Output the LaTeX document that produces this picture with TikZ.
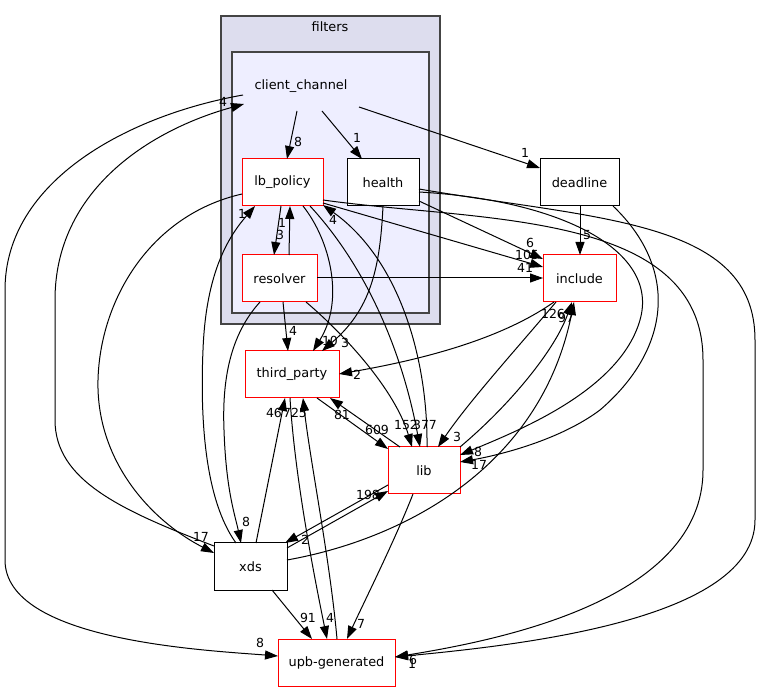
\documentclass[tikz,border=0pt]{standalone}
\usepackage{fontspec}
\setmainfont{DejaVu Sans}
\usetikzlibrary{arrows.meta,calc}
\definecolor{clout}{HTML}{DDDDEE}
\definecolor{clin}{HTML}{EEEEFF}
\definecolor{clborder}{HTML}{444444}
\tikzset{
 box/.style={draw, fill=white, minimum height=47pt, inner sep=0pt, outer sep=0pt, line width=1pt, font=\fontsize{12.9}{14}\selectfont},
 redbox/.style={box, draw=red},
 blkbox/.style={box, draw=black},
 edge/.style={line width=1pt, -{Triangle[length=13pt,width=9pt]}},
 lbl/.style={inner sep=0pt, font=\fontsize{12.5}{13}\selectfont},
 cluster/.style={draw=clborder, line width=1.3pt, inner sep=0pt, outer sep=0pt},
}
\begin{document}
\begin{tikzpicture}[x=1pt,y=-1pt]
\useasboundingbox (0,0) rectangle (761,692);
% clusters
\node[cluster, fill=clout, minimum width=219pt, minimum height=308pt] (filters) at (330.5,170) {};
\node[lbl, font=\fontsize{12.9}{14}\selectfont] (filterstitle) at (330,27) {filters};
\node[cluster, fill=clin, minimum width=197pt, minimum height=261pt] (ccbox) at (330.5,182.5) {};
% nodes
\node[inner sep=0pt, outer sep=0pt, minimum width=116pt, minimum height=50pt, font=\fontsize{12.9}{14}\selectfont] (cc) at (301,86) {client\_channel};
\node[redbox, minimum width=81pt] (lb) at (282.5,182.5) {lb\_policy};
\node[blkbox, minimum width=72pt] (health) at (383,182.5) {health};
\node[redbox, minimum width=75pt] (resolver) at (279.5,278.5) {resolver};
\node[blkbox, minimum width=79pt] (deadline) at (579.5,182.5) {deadline};
\node[redbox, minimum width=73pt] (include) at (579.5,278.5) {include};
\node[redbox, minimum width=94pt] (tp) at (292,374.5) {third\_party};
\node[redbox, minimum width=72pt] (lib) at (424,470.5) {lib};
\node[blkbox, minimum width=73pt] (xds) at (250.5,566.5) {xds};
\node[redbox, minimum width=117pt] (upb) at (336.5,662.5) {upb-generated};
% edges from client_channel
\draw[edge] ($(cc.north west)+(54,50)$) -- ($(lb.north west)+(45,0)$);
\draw[edge] ($(cc.north west)+(79,50)$) -- ($(health.north west)+(15,0)$);
\draw[edge] ($(cc.north west)+(116,46)$) -- ($(deadline.north west)+(0,9)$);
\draw[edge] ($(cc.north west)+(0,34)$) .. controls (130,115) and (5,180) .. (5,290) -- (5,560) .. controls (5,640) and (200,650) .. ($(upb.north west)+(0,17)$);
\draw[edge] ($(xds.north west)+(0,3)$) .. controls (120,510) and (55,480) .. (55,420) -- (55,300) .. controls (55,190) and (150,130) .. ($(cc.north west)+(1,43)$);
% lb_policy / xds / resolver
\draw[edge] ($(lb.north west)+(0,35)$) .. controls (150,215) and (100,300) .. (98,380) .. controls (96,460) and (150,520) .. ($(xds.north west)+(0,10)$);
\draw[edge] ($(xds.north west)+(22,0)$) .. controls (205,500) and (200,420) .. (203,350) .. controls (206,270) and (230,235) .. ($(lb.north west)+(13,47)$);
\draw[edge] ($(resolver.north west)+(18,47)$) .. controls (230,335) and (222,380) .. (224,430) .. controls (226,490) and (235,515) .. ($(xds.north west)+(27,0)$);
\draw[edge] ($(lb.north west)+(39,47)$) -- ($(resolver.north west)+(32,0)$);
\draw[edge] ($(resolver.north west)+(47,0)$) -- ($(lb.north west)+(48,47)$);
\draw[edge] ($(resolver.north west)+(41,47)$) -- ($(tp.north west)+(43,0)$);
\draw[edge] ($(lb.north west)+(61,47)$) .. controls (330,240) and (345,300) .. ($(tp.north west)+(68,0)$);
\draw[edge] ($(health.north west)+(36,47)$) .. controls (380,270) and (370,310) .. ($(tp.north west)+(77,0)$);
\draw[edge] ($(lb.north west)+(68,47)$) .. controls (360,260) and (400,340) .. ($(lib.north west)+(32,0)$);
\draw[edge] ($(lib.north west)+(39,0)$) .. controls (428,360) and (400,260) .. ($(lb.north west)+(81,46)$);
\draw[edge] ($(resolver.north west)+(64,47)$) .. controls (345,335) and (395,390) .. ($(lib.north west)+(24,0)$);
% to include
\draw[edge] ($(resolver.north west)+(75,23)$) -- ($(include.north west)+(0,23)$);
\draw[edge] ($(lb.north west)+(81,44)$) -- ($(include.north west)+(0,12)$);
\draw[edge] ($(health.north west)+(72,42)$) -- ($(include.north west)+(0,4)$);
\draw[edge] ($(deadline.north west)+(40,47)$) -- ($(include.north west)+(37,0)$);
\draw[edge] ($(include.north west)+(11,47)$) .. controls (500,340) and (420,360) .. ($(tp.north west)+(94,23)$);
\draw[edge] ($(include.north west)+(13,47)$) .. controls (520,345) and (470,400) .. ($(lib.north west)+(50,0)$);
\draw[edge] ($(lib.north west)+(72,0)$) .. controls (510,405) and (555,350) .. ($(include.north west)+(29,47)$);
\draw[edge] ($(xds.north west)+(73,17)$) .. controls (400,540) and (540,470) .. ($(include.north west)+(31,47)$);
% right side long edges
\draw[edge] ($(deadline.north west)+(73,47)$) .. controls (680,270) and (670,350) .. (600,410) .. controls (560,440) and (500,455) .. ($(lib.north west)+(72,15)$);
\draw[edge] ($(health.north west)+(72,33)$) .. controls (560,200) and (660,250) .. (640,320) .. controls (620,390) and (520,430) .. ($(lib.north west)+(72,8)$);
\draw[edge] ($(lb.north west)+(81,41)$) .. controls (480,222) and (703,210) .. (703,360) -- (703,470) .. controls (703,600) and (500,640) .. ($(upb.north west)+(117,18)$);
\draw[edge] ($(health.north west)+(72,30)$) .. controls (600,220) and (755,220) .. (755,340) -- (755,520) .. controls (755,620) and (520,645) .. ($(upb.north west)+(117,18)$);
% third_party / lib / xds / upb
\draw[edge] ($(tp.north west)+(72,47)$) -- ($(lib.north west)+(0,2)$);
\draw[edge] ($(lib.north west)+(12,0)$) -- ($(tp.north west)+(85,47)$);
\draw[edge] ($(xds.north west)+(42,0)$) -- ($(tp.north west)+(40,47)$);
\draw[edge] ($(tp.north west)+(45,47)$) .. controls (295,480) and (315,580) .. ($(upb.north west)+(49,0)$);
\draw[edge] ($(upb.north west)+(59,0)$) .. controls (330,560) and (310,460) .. ($(tp.north west)+(58,47)$);
\draw[edge] ($(xds.north west)+(73,5)$) -- ($(lib.north west)+(0,44)$);
\draw[edge] ($(lib.north west)+(0,38)$) -- ($(xds.north west)+(71,0)$);
\draw[edge] ($(lib.north west)+(25,47)$) .. controls (395,540) and (365,600) .. ($(upb.north west)+(69,0)$);
\draw[edge] ($(xds.north west)+(58,47)$) -- ($(upb.north west)+(34,0)$);
% labels
\node[lbl] (l1) at (298,142) {8};
\node[lbl] (l2) at (357,138) {1};
\node[lbl] (l3) at (525,153) {1};
\node[lbl] (l4) at (223,102) {4};
\node[lbl] (l5) at (260,643) {8};
\node[lbl] (l6) at (280,235) {3};
\node[lbl] (l7) at (282,223) {1};
\node[lbl] (l8) at (242,214) {1};
\node[lbl] (l9) at (333,220) {4};
\node[lbl] (l10) at (330,341) {10};
\node[lbl] (l11) at (345,343) {3};
\node[lbl] (l12) at (293,331) {4};
\node[lbl] (l13) at (357,375) {2};
\node[lbl] (l14) at (342,415) {81};
\node[lbl] (l15) at (377,430) {609};
\node[lbl] (l16) at (406,425) {152};
\node[lbl] (l17) at (425,425) {377};
\node[lbl] (l18) at (457,437) {3};
\node[lbl] (l19) at (478,452) {8};
\node[lbl] (l20) at (479,465) {17};
\node[lbl] (l21) at (553,314) {126};
\node[lbl] (l22) at (566,318) {97};
\node[lbl] (l23) at (530,243) {6};
\node[lbl] (l24) at (527,255) {105};
\node[lbl] (l25) at (525,268) {41};
\node[lbl] (l26) at (587,235) {5};
\node[lbl] (l27) at (274,413) {46};
\node[lbl] (l28) at (295,413) {725};
\node[lbl] (l29) at (201,537) {17};
\node[lbl] (l30) at (246,522) {8};
\node[lbl] (l31) at (305,540) {2};
\node[lbl] (l32) at (368,495) {198};
\node[lbl] (l33) at (308,618) {91};
\node[lbl] (l34) at (330,618) {4};
\node[lbl] (l35) at (361,624) {7};
\node[lbl] (l36) at (413,660) {6};
\node[lbl] (l37) at (412,664) {1};
\end{tikzpicture}
\end{document}
